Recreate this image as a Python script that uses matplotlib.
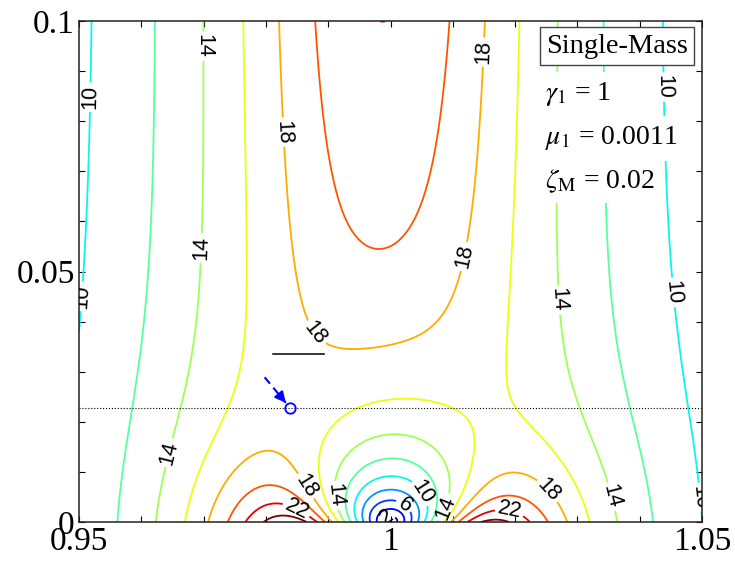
import numpy as np
import matplotlib
matplotlib.use("Agg")
import matplotlib.pyplot as plt

plt.rcParams['font.family'] = ['Liberation Serif', 'DejaVu Serif']
plt.rcParams['mathtext.fontset'] = 'stix'

# parameters printed on the chart
gamma_1 = 1.0      # TMD tuning ratio
mu_1 = 0.0011      # mass ratio
zeta_M = 0.02      # main structure damping

# axes ranges: excitation frequency ratio vs TMD damping
beta_range = [0.95, 1.05]
zeta_range = [0.0, 0.1]
levels = [2, 4, 6, 8, 10, 12, 14, 16, 18, 20, 22, 24]

# contour label positions
label_pos = {
    2: [(0.9995, 0.0006)],
    6: [(1.0015, 0.0022)],
    10: [(0.9518, 0.0848), (0.9508, 0.0450), (1.0431, 0.0868), (1.0442, 0.0457),
         (1.0047, 0.0056), (1.0487, 0.0048)],
    14: [(0.9694, 0.0950), (0.9694, 0.0547), (1.0266, 0.0443), (0.9646, 0.0138),
         (0.9905, 0.0052), (1.0090, 0.0028), (1.0346, 0.0048)],
    18: [(0.9822, 0.0778), (1.0151, 0.0938), (1.0122, 0.0529), (0.9875, 0.0373),
         (0.9857, 0.0066), (1.0247, 0.0056)],
    22: [(0.9846, 0.0018), (1.0191, 0.0022)],
}

# design point, guide line and marker line
opt_beta = 0.9838
opt_zeta = 0.0228
arrow_from = (0.9798, 0.0289)
bar_x = [0.9811, 0.9894]
bar_y = [0.0335, 0.0335]


def amplification(beta, zt):
    # main mass dynamic amplification with a single TMD
    num = gamma_1**2 + 2j * zt * gamma_1 * beta
    den = gamma_1**2 - beta**2 + 2j * zt * gamma_1 * beta
    with np.errstate(divide='ignore', invalid='ignore'):
        D = 1 - beta**2 + 2j * zeta_M * beta - mu_1 * beta**2 * num / den
        H = 1.0 / np.abs(D)
    return np.nan_to_num(H, nan=0.0)


b = np.linspace(beta_range[0], beta_range[1], 800)
z = np.linspace(zeta_range[0], zeta_range[1], 800)
B, Zt = np.meshgrid(b, z)
H = amplification(B, Zt)

cmap = plt.get_cmap('jet')

fig = plt.figure(figsize=(7.35, 5.65), dpi=100)
ax = fig.add_axes([0.1075, 0.076, 0.8476, 0.8867])

for lv in levels:
    col = cmap((lv - levels[0]) / (levels[-1] - levels[0]))
    cs = ax.contour(B, Zt, H, levels=[lv], colors=[col], linewidths=1.3)
    if lv in label_pos:
        txts = ax.clabel(cs, manual=label_pos[lv], inline=True,
                         inline_spacing=4, fmt='%d', fontsize=15.5, colors='k')
        for t in txts:
            t.set_fontfamily('Liberation Sans')

ax.axhline(opt_zeta, color='k', ls=':', lw=0.8)
ax.plot(bar_x, bar_y, color='k', lw=1.1)
ax.plot([arrow_from[0], opt_beta - 0.0006], [arrow_from[1], opt_zeta + 0.0010],
        color='blue', ls=(0, (4, 2.5)), lw=1.5)
ax.annotate('', xy=(opt_beta - 0.0006, opt_zeta + 0.0010),
            xytext=(opt_beta - 0.0016, opt_zeta + 0.0025),
            arrowprops=dict(arrowstyle='-|>', color='blue', lw=1.5,
                            mutation_scale=16, shrinkA=0, shrinkB=0))
ax.plot([opt_beta], [opt_zeta], 'o', mfc='none', mec='blue', ms=7.5, mew=1.3)

ax.text(0.8636, 0.950, 'Single-Mass', transform=ax.transAxes, fontsize=20.5,
        ha='center', va='center', zorder=5,
        bbox=dict(boxstyle='square,pad=0.22', fc='white', ec='#444444', lw=1.0))
info = [r'$\gamma_1$ = 1', r'$\mu_1$ = 0.0011', r'$\zeta_\mathrm{M}$ = 0.02']
info_y = [0.842, 0.754, 0.667]
for s, yy in zip(info, info_y):
    ax.text(0.748, yy, s, transform=ax.transAxes, fontsize=20,
            va='baseline', zorder=5,
            bbox=dict(boxstyle='square,pad=0.3', fc='white', ec='none'))

ax.set_xlim(beta_range)
ax.set_ylim(zeta_range)
ax.set_xticks([0.95, 1.0, 1.05])
ax.set_xticklabels(['0.95', '1', '1.05'])
ax.set_yticks([0.0, 0.05, 0.1])
ax.set_yticklabels(['0', '0.05', '0.1'])
ax.set_xticks(np.arange(0.96, 1.05, 0.01), minor=True)
ax.set_yticks(np.arange(0.01, 0.1, 0.01), minor=True)
ax.tick_params(which='both', direction='in', top=True, right=True,
               length=4, width=0.8, labelsize=24, pad=3)
for sp in ax.spines.values():
    sp.set_linewidth(1.1)
    sp.set_color('#222222')

fig.savefig('out.png', dpi=100)
